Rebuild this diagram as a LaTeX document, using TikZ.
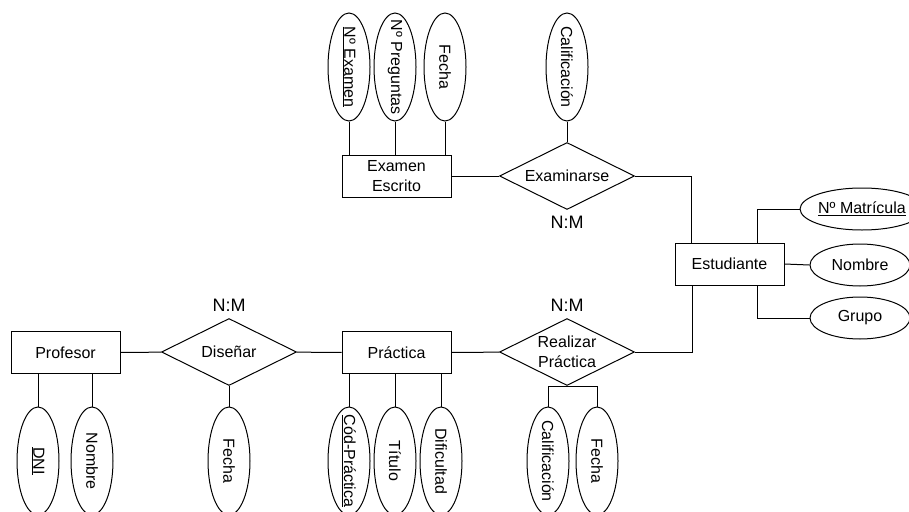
\documentclass[tikz,border=0pt]{standalone}
\usepackage{fontspec}
\setmainfont{Liberation Sans}
\usetikzlibrary{shapes.geometric}

\begin{document}
\begin{tikzpicture}[
    x=1pt, y=-1pt,
    font=\fontsize{16}{20}\selectfont,
    line width=1pt,
    entity/.style={rectangle, draw, minimum width=109pt, minimum height=42pt, inner sep=0pt, align=center},
    rel/.style={diamond, draw, minimum width=135pt, minimum height=67pt, aspect=2, inner sep=0pt, align=center},
    vattr/.style={ellipse, draw, minimum width=42pt, minimum height=108pt, inner sep=0pt},
    hattr/.style={ellipse, draw, minimum width=100pt, minimum height=42pt, inner sep=0pt},
    vtext/.style={rotate=-90, inner sep=0pt},
    card/.style={font=\fontsize{18}{20}\selectfont}
]
\useasboundingbox (0,0) rectangle (909,511);

% Entities
\node[entity] (examen) at (396.5,176) {Examen\\Escrito};
\node[entity] (estudiante) at (729.5,264) {Estudiante};
\node[entity] (profesor) at (65.5,352.5) {Profesor};
\node[entity] (practica) at (396.5,352.5) {Práctica};

% Relationships
\node[rel] (examinarse) at (567,176) {Examinarse};
\node[rel] (disenar) at (229,352) {Diseñar};
\node[rel] (realizar) at (567,352) {Realizar\\Práctica};

% Cardinalities
\node[card] (cardex) at (567,222) {N:M};
\node[card] (carddis) at (229,305) {N:M};
\node[card] (cardreal) at (567,305) {N:M};

% Attributes of Examen Escrito / Examinarse
\node[vattr, label={[vtext]center:\underline{Nº Examen}}] (numexamen) at (349,67) {};
\node[vattr, label={[vtext]center:Nº Preguntas}] (numpreg) at (395,67) {};
\node[vattr, label={[vtext]center:Fecha}] (fechaex) at (445,67) {};
\node[vattr, label={[vtext]center:Calificación}] (califex) at (567,67) {};

% Attributes of Estudiante
\node[hattr] (nummat) at (862,209) {\underline{Nº Matrícula}};
\node[hattr] (nombreest) at (860,265) {Nombre};
\node[hattr] (grupo) at (860,318) {Grupo};

% Attributes of Profesor, Diseñar, Práctica, Realizar Práctica
\node[vattr, label={[vtext]center:\underline{DNI}}] (dni) at (38,461) {};
\node[vattr, label={[vtext]center:Nombre}] (nombreprof) at (92,461) {};
\node[vattr, label={[vtext]center:Fecha}] (fechadis) at (229,461) {};
\node[vattr, label={[vtext]center:\underline{Cód-Práctica}}] (codprac) at (349,461) {};
\node[vattr, label={[vtext]center:Título}] (titulo) at (395,461) {};
\node[vattr, label={[vtext]center:Dificultad}] (dificultad) at (441,461) {};
\node[vattr, label={[vtext]center:Calificación}] (califprac) at (548,461) {};
\node[vattr, label={[vtext]center:Fecha}] (fechaprac) at (597,461) {};

% Links between entities and relationships
\draw (examen) -- (examinarse);
\draw (examinarse.east) -| ([xshift=17pt]estudiante.north west);
\draw (realizar.east) -| ([xshift=18pt]estudiante.south west);
\draw (profesor) -- (disenar);
\draw (disenar) -- (practica);
\draw (practica) -- (realizar);

% Attribute links
\draw (numexamen.south) -- (numexamen.south |- examen.north);
\draw (numpreg.south) -- (numpreg.south |- examen.north);
\draw (fechaex.south) -- (fechaex.south |- examen.north);
\draw (califex.south) -- (examinarse.north);
\draw ([xshift=-27pt]estudiante.north east) |- (nummat.west);
\draw (estudiante.east) -- (nombreest.west);
\draw ([xshift=-27pt]estudiante.south east) |- (grupo.west);
\draw (dni.north) -- (dni.north |- profesor.south);
\draw (nombreprof.north) -- (nombreprof.north |- profesor.south);
\draw (disenar.south) -- (fechadis.north);
\draw (codprac.north) -- (codprac.north |- practica.south);
\draw (titulo.north) -- (titulo.north |- practica.south);
\draw (dificultad.north) -- (dificultad.north |- practica.south);
\draw (realizar.south) -| (califprac.north);
\draw (realizar.south) -| (fechaprac.north);

\end{tikzpicture}
\end{document}
